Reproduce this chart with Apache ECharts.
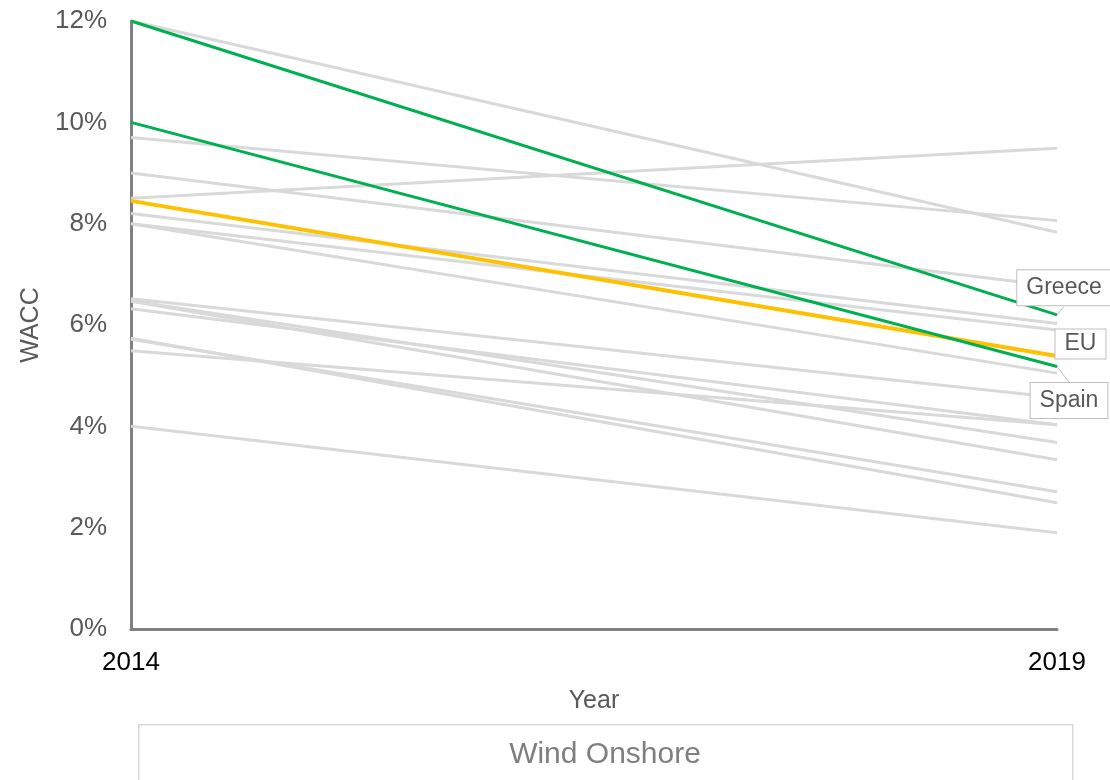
<!DOCTYPE html>
<html>
<head>
<meta charset="utf-8">
<style>
  html, body { margin: 0; padding: 0; background: #ffffff; }
  #chart { width: 1110px; height: 780px; }
</style>
<script src="https://cdn.jsdelivr.net/npm/echarts@6/dist/echarts.min.js"></script>
</head>
<body>
<div id="chart"></div>
<script>
// WACC for onshore wind, 2014 vs 2019 (%)
const years = ['2014', '2019'];
const greece = [12.0, 6.20];
const spain = [10.0, 5.18];
const eu = [8.45, 5.39];
// remaining member states, start and end values
const others2014 = [12.0, 9.7, 9.0, 8.5, 8.2, 8.0, 8.0, 6.52, 6.48, 6.32, 6.47, 5.72, 5.74, 5.49, 4.0];
const others2019 = [7.83, 8.06, 6.76, 9.49, 6.03, 5.90, 5.05, 4.57, 3.68, 4.03, 3.34, 2.71, 2.49, 4.03, 1.90];
const yTicks = [0, 2, 4, 6, 8, 10, 12];

const FONT = '"Liberation Sans", Arial, sans-serif';
const GREY_LINE = '#d9d9d9';
const GREEN = '#00b050';
const YELLOW = '#ffc000';

const calloutLabel = {
  show: true,
  formatter: '{a}',
  fontFamily: FONT,
  fontSize: 23,
  color: '#595959',
  backgroundColor: '#ffffff',
  borderColor: '#bfbfbf',
  borderWidth: 1,
  padding: [6, 9]
};

function highlighted(name, values, color, width, labelPos, shift, withLine, pad) {
  const lbl = Object.assign({ position: labelPos, distance: 5 }, calloutLabel);
  if (pad) lbl.padding = pad;
  return {
    name: name,
    type: 'line',
    z: 5,
    symbol: 'circle',
    symbolSize: 1,
    showSymbol: true,
    itemStyle: { color: color },
    lineStyle: { color: color, width: width },
    data: values.map((v, i) => i === values.length - 1
      ? { value: v, label: lbl }
      : { value: v, label: { show: false } }),
    labelLayout: { dx: shift[0], dy: shift[1] },
    labelLine: { show: withLine, lineStyle: { color: '#bfbfbf', width: 1 } },
    emphasis: { disabled: true }
  };
}

const series = [];
others2014.forEach((start, i) => {
  series.push({
    name: 'other-' + (i + 1),
    type: 'line',
    z: 2,
    showSymbol: false,
    symbol: 'none',
    lineStyle: { color: GREY_LINE, width: 3 },
    data: [start, others2019[i]],
    emphasis: { disabled: true }
  });
});
series.push(highlighted('EU', eu, YELLOW, 4, 'right', [-7, -12], false, [3, 9]));
series.push(highlighted('Spain', spain, GREEN, 3, 'bottom', [12, 11], true));
series.push(highlighted('Greece', greece, GREEN, 3, 'top', [7, -4], true));

const chart = echarts.init(document.getElementById('chart'), null, { renderer: 'canvas' });
chart.setOption({
  animation: false,
  backgroundColor: '#ffffff',
  textStyle: { fontFamily: FONT },
  grid: { left: 131, right: 53, top: 21, bottom: 151, containLabel: false },
  xAxis: {
    type: 'category',
    data: years,
    boundaryGap: false,
    name: 'Year',
    nameLocation: 'middle',
    nameGap: 60,
    nameTextStyle: { fontFamily: FONT, fontSize: 25, color: '#595959' },
    axisLine: { show: true, lineStyle: { color: '#808080', width: 3 } },
    axisTick: { show: false },
    axisLabel: { fontFamily: FONT, fontSize: 26, color: '#000000', margin: 21 },
    splitLine: { show: false }
  },
  yAxis: {
    type: 'value',
    min: yTicks[0],
    max: yTicks[yTicks.length - 1],
    interval: yTicks[1] - yTicks[0],
    name: 'WACC',
    nameLocation: 'middle',
    nameGap: 82,
    nameTextStyle: { fontFamily: FONT, fontSize: 25, color: '#595959' },
    axisLine: { show: true, lineStyle: { color: '#808080', width: 3 } },
    axisTick: { show: false },
    axisLabel: { fontFamily: FONT, fontSize: 26, color: '#595959', margin: 24, formatter: '{value}%' },
    splitLine: { show: false }
  },
  graphic: [
    {
      type: 'rect',
      left: 138,
      top: 724,
      shape: { width: 934, height: 80 },
      style: { fill: '#ffffff', stroke: '#d9d9d9', lineWidth: 1.5 },
      silent: true
    },
    {
      type: 'text',
      x: 605,
      y: 740,
      style: { text: 'Wind Onshore', font: '30px ' + FONT, fill: '#7f7f7f', align: 'center', verticalAlign: 'top' },
      silent: true
    }
  ],
  series: series
});
</script>
</body>
</html>
